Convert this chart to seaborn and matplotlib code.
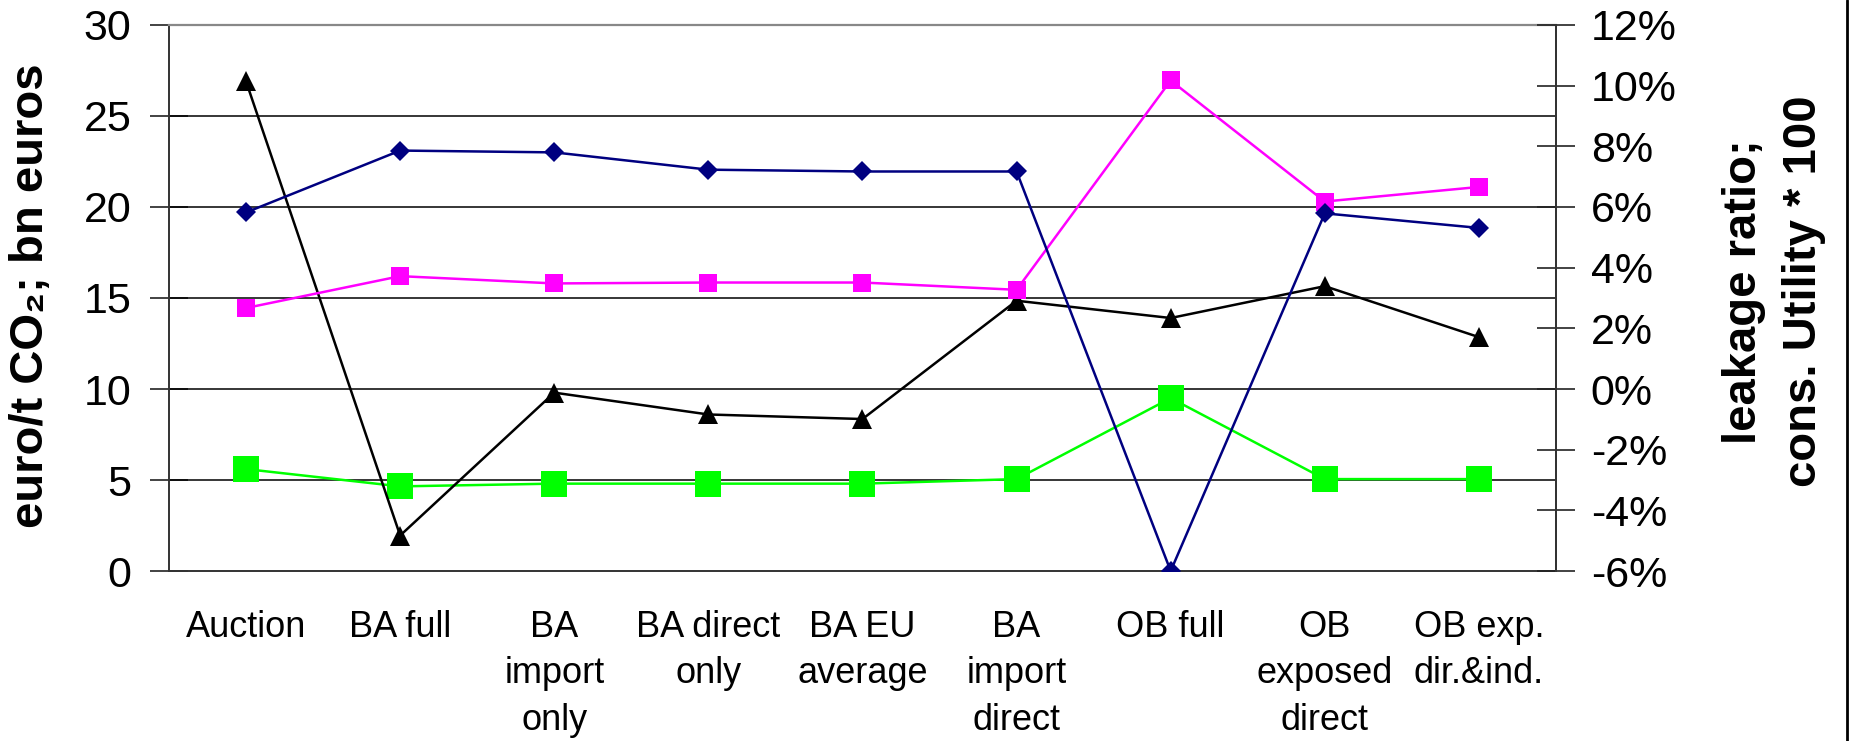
import matplotlib
matplotlib.use("Agg")
import matplotlib.pyplot as plt
from matplotlib.lines import Line2D
from matplotlib.ticker import FuncFormatter, FixedLocator
import seaborn as sns
import numpy as np
import pandas as pd

# Scenario labels
categories = [
    "Auction", "BA full", "BA\nimport\nonly", "BA direct\nonly", "BA EU\naverage",
    "BA\nimport\ndirect", "OB full", "OB\nexposed\ndirect", "OB exp.\ndir.&ind.",
]

# Series values on the left scale (euro/t CO2; bn euros)
navy_diamond = [19.7, 23.1, 23.0, 22.05, 21.95, 21.95, 0.0, 19.65, 18.85]
magenta_square = [14.45, 16.2, 15.8, 15.85, 15.85, 15.45, 26.95, 20.3, 21.1]
black_triangle = [26.9, 1.95, 9.8, 8.6, 8.35, 14.85, 13.9, 15.65, 12.85]
green_square = [5.6, 4.65, 4.8, 4.8, 4.8, 5.05, 9.5, 5.05, 5.05]

left_ticks = [0, 5, 10, 15, 20, 25, 30]
right_ticks = [-6, -4, -2, 0, 2, 4, 6, 8, 10, 12]

sns.set_theme(style="white")
plt.rcParams["font.family"] = ["Liberation Sans", "DejaVu Sans"]
plt.rcParams["text.color"] = "black"
plt.rcParams["xtick.color"] = "black"
plt.rcParams["ytick.color"] = "black"

fig = plt.figure(figsize=(18.51, 7.41), dpi=100)
ax = fig.add_axes([0.0913, 0.2294, 0.7493, 0.7369])

x = np.arange(len(categories))
df = pd.DataFrame({
    "x": np.tile(x, 4),
    "value": navy_diamond + magenta_square + black_triangle + green_square,
    "series": np.repeat(["navy", "magenta", "black", "green"], len(categories)),
})

styles = {
    "navy": dict(color="#000080", marker="D", ms=10),
    "magenta": dict(color="#FF00FF", marker="s", ms=13.5),
    "black": dict(color="#000000", marker="^", ms=15),
    "green": dict(color="#00FF00", marker="s", ms=18.5),
}

for name in ["green", "black", "magenta", "navy"]:
    st = styles[name]
    sub = df[df["series"] == name]
    sns.lineplot(data=sub, x="x", y="value", ax=ax, color=st["color"],
                 marker=st["marker"], markersize=st["ms"], markeredgewidth=0,
                 markeredgecolor=st["color"], linewidth=1.8, sort=False,
                 legend=False, zorder=3)

ax.set_xlim(-0.5, len(categories) - 0.5)
ax.set_ylim(0, 30)
ax.set_yticks(left_ticks)
ax.set_xticks(x)
ax.set_xticklabels(categories, fontsize=26, linespacing=1.42, color="black")
ax.xaxis.set_minor_locator(FixedLocator(np.arange(-0.5, len(categories), 1.0)))
ax.tick_params(axis="x", which="major", length=0, pad=28)
ax.tick_params(axis="x", which="minor", length=24, width=1.2, direction="inout",
               color="#222222")
ax.tick_params(axis="y", which="major", length=28, width=1.2, direction="inout",
               color="#222222", labelsize=31, pad=13, labelcolor="black")
ax.set_xlabel("")
ax.set_ylabel("")

# Horizontal gridlines
for yv in left_ticks[1:-1]:
    ax.axhline(yv, color="#000000", lw=1.1, zorder=1)
ax.grid(False)

for side in ["left", "right", "bottom"]:
    ax.spines[side].set_color("#333333")
    ax.spines[side].set_linewidth(1.4)
ax.spines["top"].set_color("#888888")
ax.spines["top"].set_linewidth(1.6)

ax2 = ax.twinx()
ax2.set_ylim(-6, 12)
ax2.set_yticks(right_ticks)
ax2.yaxis.set_major_formatter(FuncFormatter(lambda v, p: f"{int(v)}%"))
ax2.tick_params(axis="y", which="major", length=28, width=1.2, direction="inout",
                color="#222222", labelsize=31, pad=11, labelcolor="black")
ax2.spines["right"].set_color("#333333")
ax2.spines["right"].set_linewidth(1.4)
for side in ["left", "top", "bottom"]:
    ax2.spines[side].set_visible(False)
ax2.grid(False)

# Axis titles
fig.text(0.0167, 0.6005, "euro/t CO₂; bn euros", rotation=90,
         ha="center", va="center", fontsize=34, fontweight="bold")
fig.text(0.9584, 0.607, "leakage ratio;\ncons. Utility * 100", rotation=90,
         ha="center", va="center", fontsize=34, fontweight="bold",
         multialignment="center", linespacing=1.45)

# Outer right edge line
fig.add_artist(Line2D([0.9978, 0.9978], [0, 1], transform=fig.transFigure,
                      color="#000000", lw=2))

fig.savefig("out.png", dpi=100, facecolor="white")
